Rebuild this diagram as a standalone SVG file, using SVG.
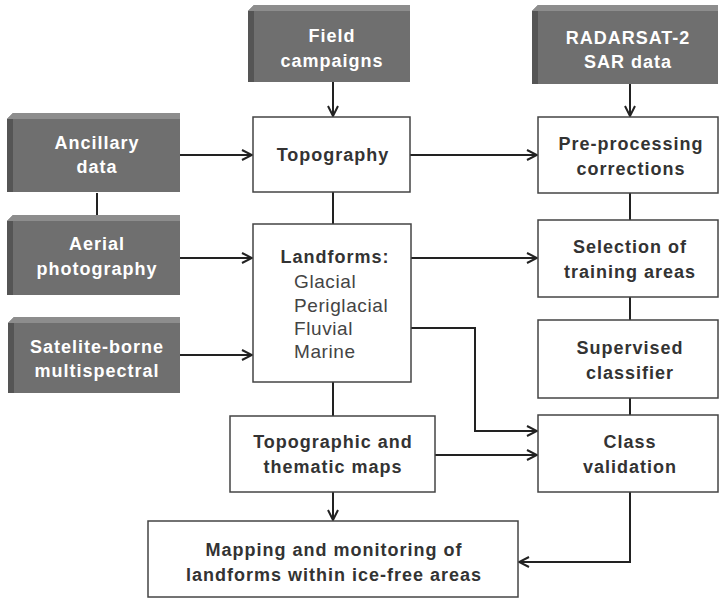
<svg xmlns="http://www.w3.org/2000/svg" width="720" height="600" viewBox="0 0 720 600">
<style>
.face{fill:#6f6f6f}
.top{fill:#8d8d8d}
.left{fill:#555}
.wb{fill:#fff;stroke:#444;stroke-width:1.5}
.lt{font-family:"Liberation Sans",Arial,sans-serif;font-weight:bold;font-size:18px;letter-spacing:1px;fill:#fff;text-anchor:middle}
.dt{font-family:"Liberation Sans",Arial,sans-serif;font-weight:bold;font-size:18px;letter-spacing:1px;fill:#333;text-anchor:middle}
.nt{font-family:"Liberation Sans",Arial,sans-serif;font-size:19px;letter-spacing:0.6px;fill:#444}
.c{fill:none;stroke:#222;stroke-width:2}
</style>
<defs>
<marker id="ah" viewBox="0 0 12 12" refX="11" refY="6" markerWidth="12" markerHeight="12" markerUnits="userSpaceOnUse" orient="auto">
<path d="M1,1 L11,6 L1,11" fill="none" stroke="#222" stroke-width="2"/>
</marker>
</defs>
<rect width="720" height="600" fill="#fff"/>
<g id="connectors">
<path class="c" d="M333,82 V116" marker-end="url(#ah)"/>
<path class="c" d="M630,84 V116" marker-end="url(#ah)"/>
<path class="c" d="M180,155 H252" marker-end="url(#ah)"/>
<path class="c" d="M410,155 H537" marker-end="url(#ah)"/>
<path class="c" d="M97,193 V215"/>
<path class="c" d="M333,192 V224"/>
<path class="c" d="M180,258 H252" marker-end="url(#ah)"/>
<path class="c" d="M410,258 H537" marker-end="url(#ah)"/>
<path class="c" d="M630,193 V220"/>
<path class="c" d="M630,297 V320"/>
<path class="c" d="M630,398 V415"/>
<path class="c" d="M180,355 H252" marker-end="url(#ah)"/>
<path class="c" d="M411,328 H475 V431 H537" marker-end="url(#ah)"/>
<path class="c" d="M333,382 V416"/>
<path class="c" d="M435,455 H537" marker-end="url(#ah)"/>
<path class="c" d="M333,492 V520" marker-end="url(#ah)"/>
<path class="c" d="M630,492 V562 H519" marker-end="url(#ah)"/>
</g>
<g id="field">
<polygon class="face" points="254,5 410,5 410,82 248,82 248,11"/>
<polygon class="top" points="248,11 254,5 410,5 410,11"/>
<polygon class="left" points="248,11 254,11 254,82 248,82"/>
<text class="lt" x="332" y="42">Field</text>
<text class="lt" x="332" y="67">campaigns</text>
</g>
<g id="radarsat">
<polygon class="face" points="538,5 718,5 718,84 532,84 532,11"/>
<polygon class="top" points="532,11 538,5 718,5 718,11"/>
<polygon class="left" points="532,11 538,11 538,84 532,84"/>
<text class="lt" x="628" y="44">RADARSAT-2</text>
<text class="lt" x="628" y="68">SAR data</text>
</g>
<g id="ancillary">
<polygon class="face" points="13,113 180,113 180,192 7,192 7,119"/>
<polygon class="top" points="7,119 13,113 180,113 180,119"/>
<polygon class="left" points="7,119 13,119 13,192 7,192"/>
<text class="lt" x="97" y="149">Ancillary</text>
<text class="lt" x="97" y="173">data</text>
</g>
<g id="aerial">
<polygon class="face" points="13,215 180,215 180,295 7,295 7,221"/>
<polygon class="top" points="7,221 13,215 180,215 180,221"/>
<polygon class="left" points="7,221 13,221 13,295 7,295"/>
<text class="lt" x="97" y="250">Aerial</text>
<text class="lt" x="97" y="275">photography</text>
</g>
<g id="satelite">
<polygon class="face" points="14,317 180,317 180,393 8,393 8,323"/>
<polygon class="top" points="8,323 14,317 180,317 180,323"/>
<polygon class="left" points="8,323 14,323 14,393 8,393"/>
<text class="lt" x="97" y="353">Satelite-borne</text>
<text class="lt" x="97" y="377">multispectral</text>
</g>
<g id="topography">
<rect class="wb" x="253" y="117" width="157" height="75"/>
<text class="dt" x="333" y="161">Topography</text>
</g>
<g id="landforms">
<rect class="wb" x="253" y="224" width="158" height="158"/>
<text class="dt" x="335" y="263">Landforms:</text>
<text class="nt" x="294" y="288">Glacial</text>
<text class="nt" x="294" y="312">Periglacial</text>
<text class="nt" x="294" y="335">Fluvial</text>
<text class="nt" x="294" y="358">Marine</text>
</g>
<g id="preprocessing">
<rect class="wb" x="538" y="117" width="180" height="76"/>
<text class="dt" x="631" y="150">Pre-processing</text>
<text class="dt" x="631" y="175">corrections</text>
</g>
<g id="selection">
<rect class="wb" x="538" y="220" width="180" height="77"/>
<text class="dt" x="630" y="253">Selection of</text>
<text class="dt" x="630" y="278">training areas</text>
</g>
<g id="supervised">
<rect class="wb" x="538" y="320" width="180" height="78"/>
<text class="dt" x="630" y="354">Supervised</text>
<text class="dt" x="630" y="379">classifier</text>
</g>
<g id="classvalidation">
<rect class="wb" x="538" y="415" width="180" height="77"/>
<text class="dt" x="630" y="448">Class</text>
<text class="dt" x="630" y="473">validation</text>
</g>
<g id="topomaps">
<rect class="wb" x="230" y="416" width="205" height="76"/>
<text class="dt" x="333" y="448">Topographic and</text>
<text class="dt" x="333" y="473">thematic maps</text>
</g>
<g id="mapping">
<rect class="wb" x="148" y="521" width="370" height="76"/>
<text class="dt" x="334" y="556">Mapping and monitoring of</text>
<text class="dt" x="334" y="581">landforms within ice-free areas</text>
</g>
</svg>
